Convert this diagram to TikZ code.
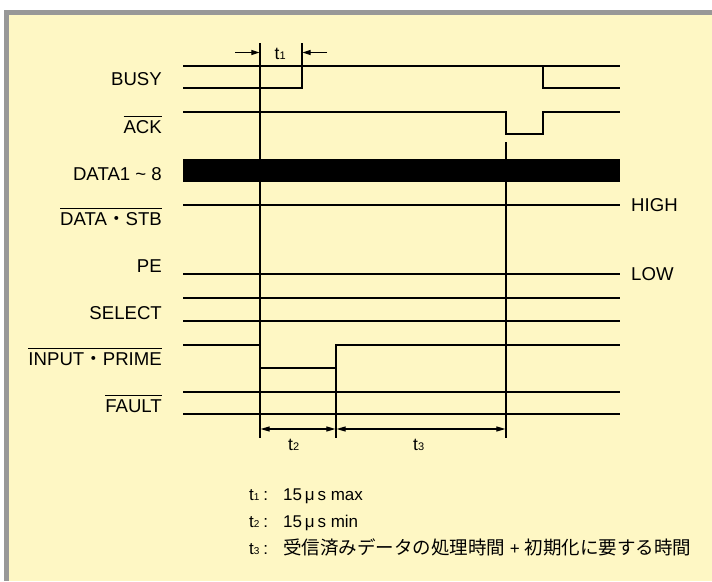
\documentclass[tikz,border=0pt]{standalone}
\usepackage{fontspec}
\setmainfont{Liberation Sans}
\newfontfamily\cjk{Noto Sans CJK JP}
\usetikzlibrary{arrows.meta}
\definecolor{panel}{RGB}{254,247,196}
\definecolor{frame}{RGB}{152,152,152}
\newcommand{\ovl}[1]{\setbox0\hbox{#1}\rlap{\rule[0.86em]{\wd0}{1.1pt}}\box0}
\newcommand{\tsub}[1]{t{\fontsize{10}{10}\selectfont #1}}
\newcommand{\tsubb}[1]{t{\fontsize{11}{11}\selectfont #1}}
\begin{document}
\begin{tikzpicture}[x=1pt,y=-1pt,
  sig/.style={line width=2.4pt},
  refline/.style={line width=1.2pt},
  dimarrow/.style={line width=1.1pt,-{Triangle[length=8pt,width=5pt]}},
  dimboth/.style={line width=1.1pt,{Triangle[length=9pt,width=5pt]}-{Triangle[length=9pt,width=5pt]}},
  lbl/.style={anchor=base east,inner sep=0pt,font=\fontsize{18.6}{20}\selectfont},
  lvl/.style={anchor=base west,inner sep=0pt,font=\fontsize{18.6}{20}\selectfont},
  tlab/.style={anchor=base west,inner sep=0pt,font=\fontsize{17.5}{19}\selectfont},
  legend/.style={anchor=base west,inner sep=0pt,font=\fontsize{17}{19}\selectfont}]
\useasboundingbox (0,0) rectangle (712,581);
% panel
\fill[white] (0,0) rectangle (712,581);
\fill[panel] (4,10) rectangle (712,581);
\fill[frame] (4,10) rectangle (712,14.5);
\fill[frame] (4,10) rectangle (9,581);

% signal labels
\node[lbl] (lbusy) at (162,85.5) {BUSY};
\node[lbl] (lack) at (162,133) {\ovl{ACK}};
\node[lbl] (ldata) at (162,180) {DATA1 \char`~\ 8};
\node[lbl] (lstb) at (162,225) {\ovl{DATA{\cjk ・}STB}};
\node[lbl] (lpe) at (162,272) {PE};
\node[lbl] (lsel) at (162,319) {SELECT};
\node[lbl] (linp) at (162,365) {\ovl{INPUT{\cjk ・}PRIME}};
\node[lbl] (lfault) at (162,412) {\ovl{FAULT}};
\node[lvl] (lhigh) at (631,211) {HIGH};
\node[lvl] (llow) at (631,280) {LOW};

% reference lines
\coordinate (ra) at (260,43);
\coordinate (rab) at (260,438);
\coordinate (rb) at (336,368);
\coordinate (rbb) at (336,438);
\coordinate (rc) at (506,142);
\coordinate (rcb) at (506,438);
\coordinate (rt) at (302,43);
\coordinate (rtb) at (302,66);
\draw[refline] (ra) -- (rab);
\draw[refline] (rb) -- (rbb);
\draw[refline] (rc) -- (rcb);
\draw[refline] (rt) -- (rtb);

% signals
\draw[sig] (183,66) -- (620,66);
\draw[sig] (183,88) -- (302,88) -- (302,66);
\draw[sig] (543,66) -- (543,88) -- (620,88);
\draw[sig] (183,112) -- (506,112) -- (506,134) -- (543,134) -- (543,112) -- (620,112);
\fill (183,159) rectangle (620,182);
\draw[sig] (183,205) -- (620,205);
\draw[sig] (183,274) -- (620,274);
\draw[sig] (183,298) -- (620,298);
\draw[sig] (183,321) -- (620,321);
\draw[sig] (183,345) -- (260,345) -- (260,368) -- (336,368) -- (336,345) -- (620,345);
\draw[sig] (183,392) -- (620,392);
\draw[sig] (183,414) -- (620,414);

% t1 arrows
\coordinate (t1a) at (235,52.5);
\coordinate (t1b) at (259.4,52.5);
\coordinate (t1c) at (327,52.5);
\coordinate (t1d) at (302.6,52.5);
\draw[dimarrow] (t1a) -- (t1b);
\draw[dimarrow] (t1c) -- (t1d);
\node[tlab] (t1l) at (274.5,59.5) {\tsubb{1}};

% t2, t3 arrows
\coordinate (t2a) at (260.6,429);
\coordinate (t2b) at (335.4,429);
\coordinate (t3a) at (336.6,429);
\coordinate (t3b) at (505.4,429);
\draw[dimboth] (t2a) -- (t2b);
\draw[dimboth] (t3a) -- (t3b);
\node[tlab] (t2l) at (288,450.5) {\tsubb{2}};
\node[tlab] (t3l) at (413,450.5) {\tsubb{3}};

% legend
\node[legend] (leg1) at (249,500) {\makebox[34pt][l]{\tsub{1}\hspace{4pt}:}15\,μ\,s max};
\node[legend] (leg2) at (249,527) {\makebox[34pt][l]{\tsub{2}\hspace{4pt}:}15\,μ\,s min};
\node[legend] (leg3) at (249,554) {\makebox[34pt][l]{\tsub{3}\hspace{4pt}:}{\fontsize{18.5}{20}\cjk 受信済みデータの処理時間} + {\fontsize{18.5}{20}\cjk 初期化に要する時間}};
\end{tikzpicture}
\end{document}
